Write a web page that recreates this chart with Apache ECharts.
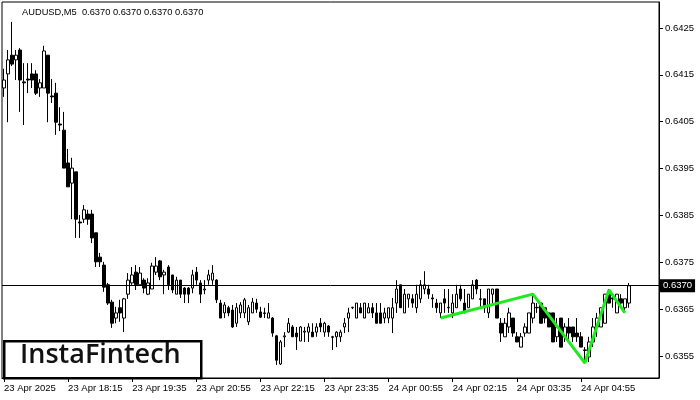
<!DOCTYPE html>
<html><head><meta charset="utf-8">
<script src="https://cdn.jsdelivr.net/npm/echarts@6/dist/echarts.min.js"></script>
<style>html,body{margin:0;padding:0;background:#fff}#c{width:700px;height:400px}</style>
</head><body><div id="c"></div>
<script>
// OHLC values (AUDUSD M5), one entry per bar
const opens = [0.64122,0.64152,0.64192,0.64182,0.64203,0.64135,0.64141,0.64152,0.64152,0.64122,0.64122,0.64192,0.64105,0.64111,0.64045,0.64032,0.63962,0.63919,0.63943,0.63836,
0.63842,0.63853,0.63853,0.63813,0.63761,0.63744,0.63702,0.63665,0.63631,0.63653,0.63631,0.63682,0.63706,0.63729,0.63702,0.63712,0.63682,0.63693,0.63729,0.63753,
0.63723,0.63740,0.63723,0.63682,0.63712,0.63695,0.63695,0.63695,0.63729,0.63706,0.63691,0.63712,0.63712,0.63712,0.63663,0.63642,0.63653,0.63648,0.63620,0.63642,
0.63642,0.63623,0.63642,0.63663,0.63644,0.63642,0.63631,0.63631,0.63593,0.63533,0.63591,0.63601,0.63612,0.63599,0.63582,0.63601,0.63601,0.63601,0.63601,0.63620,
0.63601,0.63614,0.63591,0.63591,0.63591,0.63612,0.63631,0.63653,0.63631,0.63653,0.63631,0.63642,0.63653,0.63642,0.63642,0.63631,0.63631,0.63631,0.63663,0.63702,
0.63642,0.63672,0.63672,0.63653,0.63672,0.63693,0.63693,0.63674,0.63663,0.63642,0.63672,0.63653,0.63642,0.63653,0.63693,0.63663,0.63653,0.63672,0.63712,0.63672,
0.63672,0.63642,0.63682,0.63693,0.63620,0.63591,0.63612,0.63631,0.63591,0.63569,0.63599,0.63599,0.63631,0.63653,0.63663,0.63653,0.63642,0.63642,0.63591,0.63631,
0.63591,0.63612,0.63612,0.63599,0.63591,0.63563,0.63548,0.63580,0.63612,0.63612,0.63620,0.63682,0.63674,0.63642,0.63672,0.63653,0.63663];
const closes = [0.64139,0.64182,0.64173,0.64192,0.64139,0.64133,0.64139,0.64139,0.64111,0.64133,0.64201,0.64111,0.64103,0.64049,0.64043,0.63951,0.63911,0.63951,0.63842,0.63834,
0.63862,0.63842,0.63802,0.63751,0.63751,0.63697,0.63663,0.63620,0.63642,0.63642,0.63672,0.63712,0.63723,0.63702,0.63727,0.63695,0.63706,0.63742,0.63742,0.63719,
0.63729,0.63702,0.63691,0.63712,0.63682,0.63682,0.63682,0.63723,0.63712,0.63682,0.63693,0.63723,0.63727,0.63670,0.63631,0.63659,0.63642,0.63612,0.63653,0.63659,
0.63670,0.63653,0.63665,0.63650,0.63633,0.63641,0.63642,0.63599,0.63541,0.63580,0.63593,0.63620,0.63591,0.63591,0.63612,0.63603,0.63612,0.63591,0.63612,0.63612,
0.63620,0.63601,0.63590,0.63601,0.63601,0.63620,0.63642,0.63654,0.63663,0.63642,0.63663,0.63653,0.63642,0.63620,0.63620,0.63642,0.63653,0.63653,0.63693,0.63653,
0.63682,0.63682,0.63663,0.63682,0.63702,0.63702,0.63682,0.63672,0.63653,0.63663,0.63663,0.63654,0.63663,0.63682,0.63672,0.63642,0.63682,0.63702,0.63693,0.63671,
0.63653,0.63693,0.63693,0.63631,0.63599,0.63620,0.63642,0.63599,0.63580,0.63591,0.63612,0.63642,0.63663,0.63654,0.63620,0.63631,0.63612,0.63580,0.63612,0.63569,
0.63612,0.63599,0.63591,0.63591,0.63569,0.63562,0.63580,0.63612,0.63631,0.63653,0.63682,0.63663,0.63672,0.63682,0.63663,0.63672,0.63700];
const lows = [0.64103,0.64049,0.64169,0.64139,0.64071,0.64043,0.64111,0.64122,0.64107,0.64103,0.64122,0.64049,0.64090,0.64022,0.64030,0.63951,0.63911,0.63842,0.63802,0.63802,
0.63834,0.63830,0.63791,0.63740,0.63740,0.63687,0.63659,0.63610,0.63620,0.63623,0.63601,0.63672,0.63702,0.63691,0.63702,0.63684,0.63680,0.63693,0.63723,0.63712,
0.63682,0.63691,0.63684,0.63682,0.63674,0.63663,0.63663,0.63684,0.63702,0.63663,0.63682,0.63702,0.63702,0.63663,0.63631,0.63631,0.63635,0.63610,0.63612,0.63631,
0.63631,0.63616,0.63642,0.63642,0.63631,0.63631,0.63631,0.63591,0.63531,0.63531,0.63569,0.63599,0.63591,0.63563,0.63582,0.63580,0.63580,0.63591,0.63591,0.63601,
0.63591,0.63591,0.63563,0.63569,0.63580,0.63599,0.63601,0.63650,0.63631,0.63642,0.63631,0.63642,0.63631,0.63620,0.63620,0.63620,0.63620,0.63599,0.63642,0.63653,
0.63642,0.63653,0.63653,0.63642,0.63663,0.63682,0.63672,0.63653,0.63642,0.63631,0.63642,0.63642,0.63631,0.63653,0.63667,0.63642,0.63653,0.63672,0.63682,0.63653,
0.63642,0.63631,0.63663,0.63631,0.63580,0.63591,0.63599,0.63591,0.63580,0.63569,0.63591,0.63599,0.63620,0.63642,0.63620,0.63620,0.63612,0.63580,0.63580,0.63569,
0.63580,0.63580,0.63580,0.63580,0.63569,0.63535,0.63537,0.63569,0.63591,0.63612,0.63620,0.63663,0.63653,0.63642,0.63653,0.63642,0.63653];
const highs = [0.64163,0.64203,0.64263,0.64203,0.64207,0.64175,0.64175,0.64175,0.64160,0.64141,0.64212,0.64192,0.64141,0.64133,0.64081,0.64071,0.63992,0.63973,0.63943,0.63851,
0.63872,0.63862,0.63862,0.63813,0.63770,0.63751,0.63706,0.63670,0.63655,0.63670,0.63674,0.63727,0.63740,0.63744,0.63740,0.63716,0.63716,0.63749,0.63761,0.63755,
0.63734,0.63744,0.63723,0.63719,0.63712,0.63697,0.63697,0.63734,0.63740,0.63712,0.63712,0.63734,0.63744,0.63714,0.63670,0.63665,0.63657,0.63659,0.63663,0.63665,
0.63674,0.63659,0.63674,0.63672,0.63655,0.63653,0.63663,0.63633,0.63595,0.63584,0.63601,0.63631,0.63616,0.63612,0.63614,0.63612,0.63620,0.63620,0.63620,0.63631,
0.63623,0.63616,0.63593,0.63603,0.63606,0.63631,0.63653,0.63655,0.63663,0.63663,0.63663,0.63663,0.63663,0.63663,0.63663,0.63653,0.63653,0.63674,0.63712,0.63702,
0.63693,0.63682,0.63682,0.63702,0.63712,0.63731,0.63702,0.63682,0.63672,0.63663,0.63693,0.63693,0.63682,0.63702,0.63702,0.63693,0.63682,0.63712,0.63714,0.63693,
0.63672,0.63693,0.63693,0.63693,0.63631,0.63631,0.63653,0.63631,0.63601,0.63599,0.63620,0.63642,0.63682,0.63663,0.63663,0.63653,0.63642,0.63642,0.63631,0.63631,
0.63620,0.63631,0.63612,0.63631,0.63601,0.63569,0.63591,0.63631,0.63642,0.63653,0.63682,0.63693,0.63682,0.63682,0.63682,0.63672,0.63706];

// x axis tick labels (every 16 bars = 80 minutes)
const tickLabels = ["23 Apr 2025","23 Apr 18:15","23 Apr 19:35","23 Apr 20:55","23 Apr 22:15","23 Apr 23:35","24 Apr 00:55","24 Apr 02:15","24 Apr 03:35","24 Apr 04:55"];
// y axis tick labels
const priceTicks = [0.6355,0.6365,0.6375,0.6385,0.6395,0.6405,0.6415,0.6425];
const lastPrice = 0.6370;
const titleText = "AUDUSD,M5  0.6370 0.6370 0.6370 0.6370";
// pattern polyline (bar index, price)
const patternIdx = [109,132,145,151,155];
const patternVals = [0.63631,0.63682,0.63535,0.63691,0.63642];
const emptyBarsRight = 7;

// categories: 5-minute bars starting 23 Apr 16:55
const nBars = opens.length;
const categories = [];
for (let i = 0; i < nBars + emptyBarsRight; i++) {
  const m = 16*60 + 55 + i*5;
  const h = Math.floor(m/60) % 24, mm = m % 60;
  categories.push((m >= 24*60 ? '24 Apr ' : '23 Apr ') + String(h).padStart(2,'0') + ':' + String(mm).padStart(2,'0'));
}
const ohlc = opens.map((o,i) => [o, closes[i], lows[i], highs[i]]);
const pattern = patternIdx.map((x,i) => [x, patternVals[i]]);

const FONT = 'Liberation Sans';
const chart = echarts.init(document.getElementById('c'), null, {renderer:'canvas'});
const showTick = (i) => i % 16 === 0 && i / 16 < tickLabels.length;
chart.setOption({
  animation: false,
  backgroundColor: '#fff',
  textStyle: {fontFamily: FONT},
  title: {text: titleText, left: 17, top: 3, textStyle: {fontSize: 9.3, fontWeight: 'normal', color: '#000', fontFamily: FONT}},
  grid: {left: 2, right: 41, top: 2, bottom: 22, show: true, borderColor: '#000', borderWidth: 1, backgroundColor: '#fff'},
  xAxis: {
    type: 'category', data: categories, boundaryGap: true,
    axisLine: {show: true, lineStyle: {color: '#000', width: 1}},
    axisTick: {show: true, alignWithLabel: true, interval: showTick, length: 4, lineStyle: {color: '#000'}},
    axisLabel: {interval: showTick, align: 'left', margin: 5, fontSize: 9.5, color: '#000', fontFamily: FONT,
      formatter: (v, i) => tickLabels[Math.round(i/16)] || ''},
    splitLine: {show: false}
  },
  yAxis: {
    type: 'value', position: 'right', scale: true, min: 0.635031, max: 0.643055,
    axisLine: {show: true, lineStyle: {color: '#000', width: 1}},
    axisTick: {show: true, length: 4, customValues: priceTicks, lineStyle: {color: '#000'}},
    axisLabel: {customValues: priceTicks, margin: 6, fontSize: 9.5, color: '#000', fontFamily: FONT, formatter: v => v.toFixed(4)},
    splitLine: {show: false}
  },
  graphic: [
    {type: 'rect', left: 3, top: 340, shape: {width: 197, height: 37}, style: {fill: '#fff', stroke: '#000', lineWidth: 2.5}, z: 100},
    {type: 'text', left: 20, top: 342, style: {text: 'InstaFintech', font: '600 27px "Open Sans"', fill: '#111'}, z: 101}
  ],
  series: [
    {
      type: 'candlestick', data: ohlc, barWidth: 3,
      itemStyle: {color: '#fff', color0: '#000', borderColor: '#000', borderColor0: '#000', borderWidth: 1}
    },
    {
      type: 'line', data: pattern, symbol: 'none', lineStyle: {color: '#1eea1e', width: 3}, z: 5,
      markLine: {
        silent: true, symbol: ['none','none'], precision: 5,
        lineStyle: {color: '#000', width: 1, type: 'solid'},
        label: {show: true, position: 'end', distance: 1, formatter: lastPrice.toFixed(4), backgroundColor: '#000', color: '#fff', padding: [2,3,1,3], fontSize: 9.5, fontFamily: FONT},
        data: [{yAxis: lastPrice}]
      }
    }
  ]
});
</script></body></html>
